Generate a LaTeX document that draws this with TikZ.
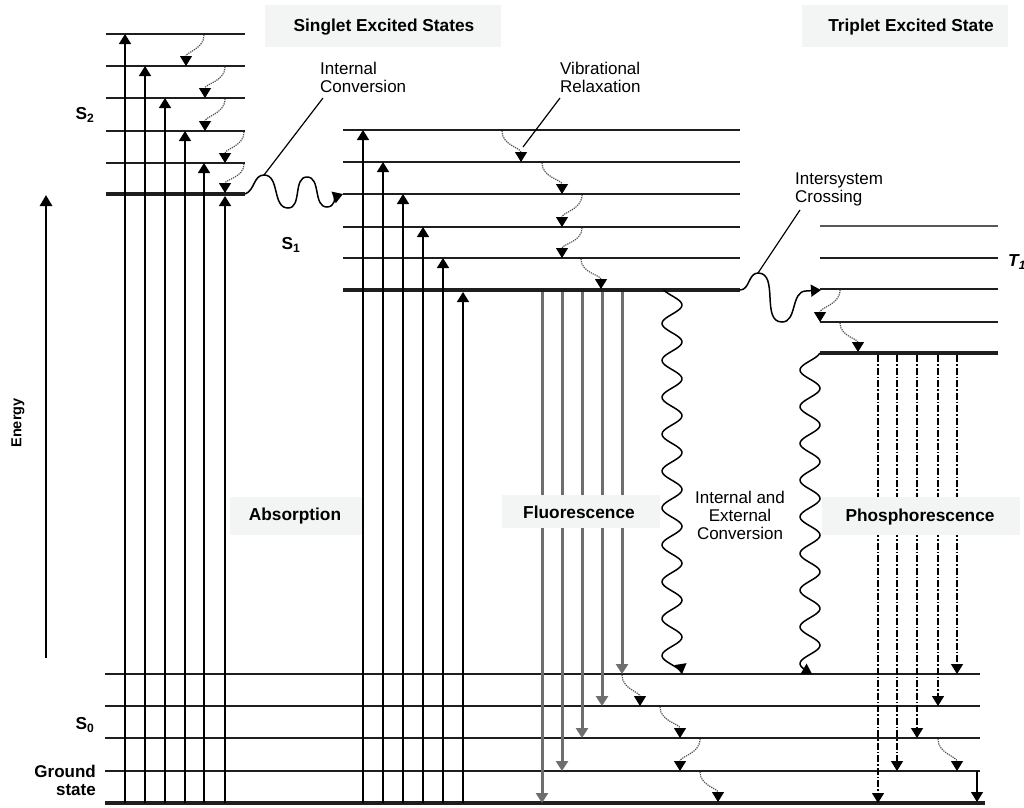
\documentclass[tikz,border=0pt]{standalone}
\usepackage{fontspec}
\setmainfont{Liberation Sans}
\usetikzlibrary{arrows.meta}
\definecolor{boxbg}{RGB}{243,244,244}
\definecolor{lvl}{RGB}{30,30,30}
\definecolor{fluo}{RGB}{110,110,110}
\begin{document}
\begin{tikzpicture}[x=1pt,y=-1pt,
 tip/.style={-{Triangle[width=12pt,length=10pt]}},
 level/.style={line width=1.7pt, draw=lvl},
 baselevel/.style={line width=3.2pt, draw=lvl},
 absorb/.style={line width=1.6pt, black, tip},
 fluor/.style={line width=3pt, fluo, -{Triangle[width=12pt,length=10pt]}},
 phos/.style={line width=1.4pt, black, dash pattern=on 7pt off 2pt on 1.5pt off 2pt, -{Triangle[width=12pt,length=10pt]}},
 vib/.style={line width=1.2pt, gray!60!black, densely dotted, -{Triangle[width=12pt,length=10pt,color=black]}},
 wave/.style={line width=1.5pt, black},
 lbl/.style={font=\fontsize{17}{18}\selectfont, align=left, inner sep=0pt},
 bl/.style={font=\bfseries\fontsize{17.3}{19}\selectfont, inner sep=0pt},
 bgbox/.style={fill=boxbg, draw=none},
 pointer/.style={line width=1.2pt, black}
]
\useasboundingbox (0,0) rectangle (1024,807);

% ---------- energy axis ----------
\coordinate (eb) at (46,658);
\coordinate (et) at (46,195);
\draw[line width=2.8pt, -{Triangle[width=12pt,length=11pt]}] (eb) -- (et);
\node[rotate=90, font=\bfseries\fontsize{14.5}{16}\selectfont] (energy) at (18,423) {Energy};

% ---------- levels ----------
\foreach \y in {34,66,98,131,163} \draw[level] (106,\y) -- (245,\y);
\draw[baselevel] (106,194) -- (245,194);
\foreach \y in {130,162,194,227,258} \draw[level] (343,\y) -- (740,\y);
\draw[baselevel] (343,290) -- (740,290);
\draw[level, draw=gray!70!black] (820,226) -- (998,226);
\foreach \y in {258,289,322} \draw[level] (820,\y) -- (998,\y);
\draw[baselevel] (820,353) -- (998,353);
\foreach \y in {674,706,738,771} \draw[level] (105,\y) -- (980,\y);
\draw[line width=4.5pt, draw=lvl] (105,803) -- (985,803);

% ---------- absorption ----------
\foreach \x/\y in {125/34,145/66,165/98,185/131,204/163,225/196}
  \draw[absorb] (\x,803) -- (\x,\y);
\foreach \x/\y in {363/130,383/162,403/194,423/227,443/258,463/292}
  \draw[absorb] (\x,803) -- (\x,\y);

% ---------- fluorescence ----------
\foreach \x/\y in {542/803,562/771,582/738,602/706,622/674}
  \draw[fluor] (\x,292) -- (\x,\y);

% ---------- phosphorescence ----------
\foreach \x/\y in {878/803,897/771,917/738,938/706,957/674}
  \draw[phos] (\x,355) -- (\x,\y);

% ---------- vibrational relaxation ----------
\foreach \a/\b/\c/\d in {204/35/186/66, 225/67/205/98, 225/99/205/131, 244/132/225/163, 244/164/225/193,
  502/131/521/162, 542/163/562/194, 582/195/562/227, 582/228/562/258, 581/259/601/289,
  840/290/820/322, 840/323/858/352,
  622/675/640/706, 660/707/680/738, 700/739/680/771, 700/772/718/802,
  938/739/957/771}
  \draw[vib] (\a,\b) to[out=-90,in=90] (\c,\d);
\draw[line width=1.2pt, -{Triangle[width=12pt,length=10pt]}] (977,771) -- (977,802);

% ---------- boxes ----------
\fill[bgbox] (265,5) rectangle (501,47);
\node[bl] (singlet) at (384,27) {Singlet Excited States};
\fill[bgbox] (802,5) rectangle (1008,47);
\node[bl] (triplet) at (911,27) {Triplet Excited State};
\fill[bgbox] (230,497) rectangle (362,535);
\node[bl] (absorption) at (295,516) {Absorption};
\fill[bgbox] (502,495) rectangle (660,528);
\node[bl] (fluorescence) at (579,512) {Fluorescence};
\fill[bgbox] (822,497) rectangle (1020,535);
\node[bl] (phosphorescence) at (920,517) {Phosphorescence};

% ---------- state labels ----------
\node[bl] (s2) at (85,115) {S\textsubscript{2}};
\node[bl] (s1) at (291,245) {S\textsubscript{1}};
\node[bl] (s0) at (85,725) {S\textsubscript{0}};
\node[bl, font=\bfseries\itshape\fontsize{17.3}{19}\selectfont, anchor=west] (t1) at (1008,262) {T\textsubscript{1}};
\node[bl, align=right, anchor=east, font=\bfseries\fontsize{17}{18}\selectfont] (ground) at (96,780) {Ground\\state};

% ---------- process labels ----------
\node[lbl, anchor=west] (iclab) at (320,77) {Internal\\Conversion};
\node[lbl, anchor=west] (vrlab) at (560,77) {Vibrational\\Relaxation};
\node[lbl, anchor=west] (isclab) at (795,189) {Intersystem\\Crossing};
\node[lbl, align=center] (ieclab) at (740,515) {Internal and\\External\\Conversion};

% ---------- internal conversion wave ----------
\coordinate (icpeak) at (264,175);
\draw[wave, -{Triangle[width=12pt,length=10pt]}] (245,194) to[out=20,in=180] (icpeak)
  to[out=0,in=180] (288,208) to[out=0,in=180] (307,177) to[out=0,in=180] (327,207)
  to[out=0,in=200] (343,194);
\draw[pointer] (323,98) -- (icpeak);

% ---------- vibrational relaxation pointer ----------
\draw[pointer] (560,98) -- (523,147);

% ---------- intersystem crossing ----------
\coordinate (iscpeak) at (758,273);
\draw[wave, -{Triangle[width=12pt,length=10pt]}] (740,290) to[out=0,in=180] (iscpeak)
  to[out=0,in=180] (782,322) to[out=0,in=180] (806,291) -- (821,290);
\draw[pointer] (800,210) -- (iscpeak);

% ---------- internal/external conversion waves ----------
\draw[wave, -{Triangle[width=12pt,length=10pt]}] plot[smooth, domain=290:674, samples=220, variable=\t]
  ({672+10*cos((\t-305)*9.756)}, \t);
\draw[wave, -{Triangle[width=12pt,length=10pt]}] plot[smooth, domain=353:674, samples=200, variable=\t]
  ({810-10*cos((\t-370)*9.809)}, \t);

\end{tikzpicture}
\end{document}
